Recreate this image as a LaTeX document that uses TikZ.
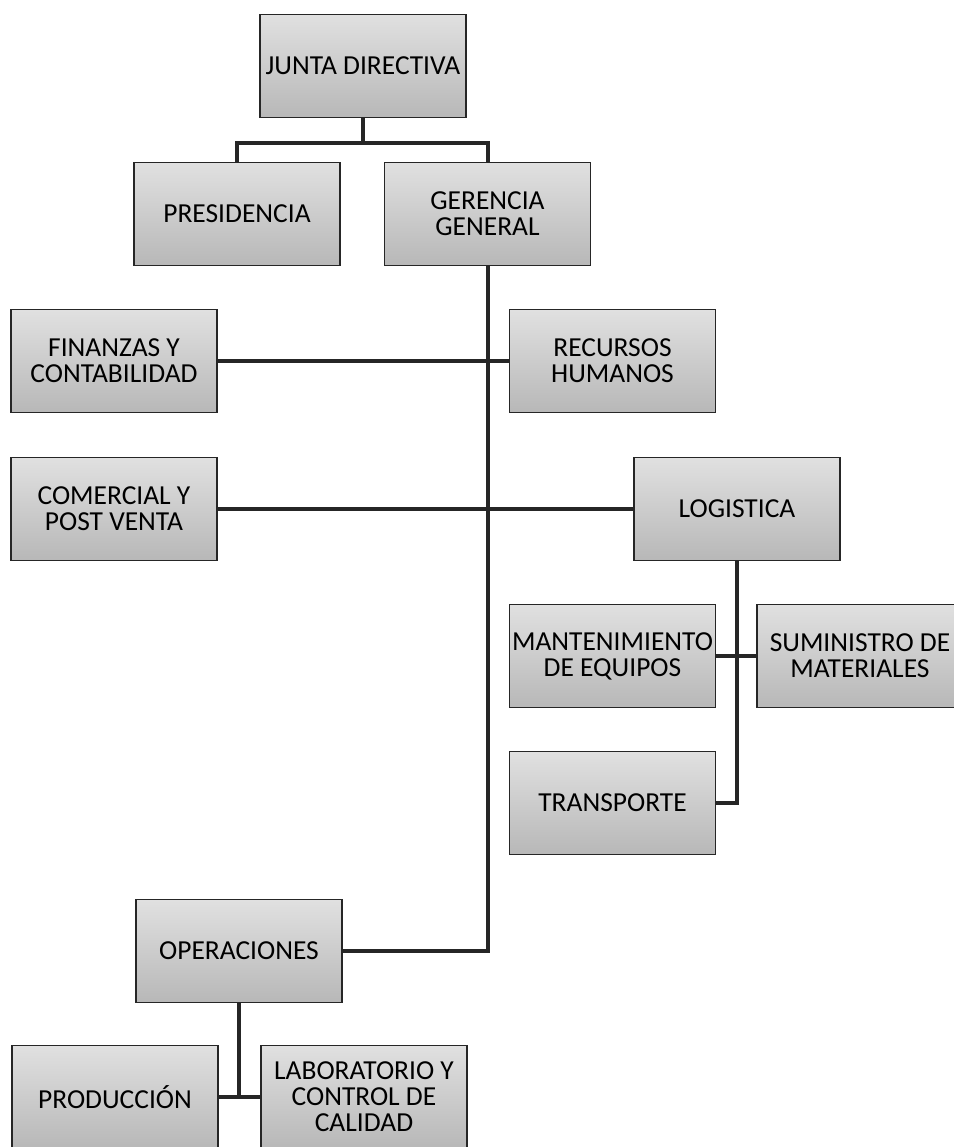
\documentclass[tikz,border=0pt]{standalone}
\usepackage{fontspec}
\setmainfont{Carlito}
\usepackage{xcolor}
\usepackage{tikz}

\begin{document}
\begin{tikzpicture}[x=0.75pt,y=0.75pt,yscale=-1,xscale=1,
  unit/.style={draw=black!85, line width=0.8pt, top color=black!12, bottom color=black!28,
    minimum width=154.5pt, minimum height=77pt, inner sep=0pt, align=center,
    font=\fontsize{20.6}{19.5}\selectfont},
  link/.style={draw=black!85, line width=3pt}]
%set diagram left start at 0, and has height of 1147
\useasboundingbox (0,0) rectangle (954,1147);

% Text Node
\node [unit] (junta) at (363,66) {JUNTA DIRECTIVA};
% Text Node
\node [unit] (presid) at (237,214) {PRESIDENCIA};
% Text Node
\node [unit] (gerencia) at (487.5,214) {GERENCIA\\GENERAL};
% Text Node
\node [unit] (finanzas) at (114,361) {FINANZAS Y\\CONTABILIDAD};
% Text Node
\node [unit] (rrhh) at (612.5,361) {RECURSOS\\HUMANOS};
% Text Node
\node [unit] (comercial) at (114,509) {COMERCIAL Y\\POST VENTA};
% Text Node
\node [unit] (logistica) at (737,509) {LOGISTICA};
% Text Node
\node [unit] (manten) at (612.5,656) {MANTENIMIENTO\\DE EQUIPOS};
% Text Node
\node [unit] (suministro) at (860,656) {SUMINISTRO DE\\MATERIALES};
% Text Node
\node [unit] (transporte) at (612.5,803) {TRANSPORTE};
% Text Node
\node [unit] (operac) at (239,951) {OPERACIONES};
% Text Node
\node [unit] (produc) at (115,1097) {PRODUCCIÓN};
% Text Node
\node [unit] (labor) at (364,1097) {LABORATORIO Y\\CONTROL DE\\CALIDAD};

%Straight Lines
\draw [link] (junta.south) -- ++(0,25) coordinate (jsplit);
\draw [link] (presid.north) |- (jsplit) -| (gerencia.north);
%Straight Lines
\draw [link] (gerencia.south) |- (operac.east);
\draw [link] (finanzas.east) -- (rrhh.west);
\draw [link] (comercial.east) -- (logistica.west);
%Straight Lines
\draw [link] (logistica.south) |- (transporte.east);
\draw [link] (manten.east) -- (suministro.west);
%Straight Lines
\draw [link] (operac.south) -- (operac.south |- produc.east);
\draw [link] (produc.east) -- (labor.west);

\end{tikzpicture}
\end{document}
